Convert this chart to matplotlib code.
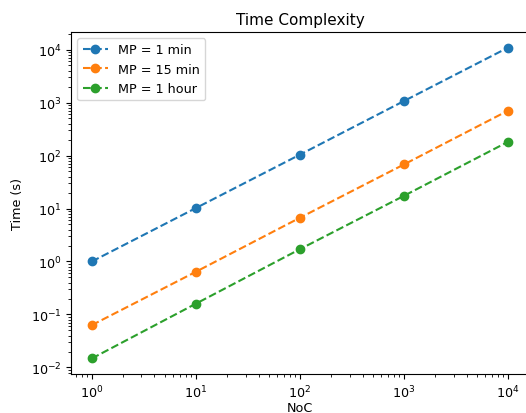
import matplotlib
matplotlib.use("Agg")
import matplotlib.pyplot as plt

noc = [1, 10, 100, 1000, 10000]
mp_1min = [1.0, 10.2, 104, 1070, 10900]
mp_15min = [0.063, 0.64, 6.7, 68, 705]
mp_1hour = [0.0148, 0.16, 1.71, 17.4, 182]
labels = ["MP = 1 min", "MP = 15 min", "MP = 1 hour"]

plt.rcParams["font.size"] = 9.2

fig = plt.figure(figsize=(5.26, 4.14), dpi=100)
ax = fig.add_axes([71 / 526, 39 / 414, 458 / 526, 342 / 414])

for vals, lab in zip([mp_1min, mp_15min, mp_1hour], labels):
    ax.plot(noc, vals, marker='o', linestyle='--', markersize=6, label=lab)

ax.set_xscale("log")
ax.set_yscale("log")
ax.set_xlabel("NoC", labelpad=0.5)
ax.set_ylabel("Time (s)", labelpad=5)
ax.set_title("Time Complexity", fontsize=11)
ax.legend(loc="upper left")

fig.savefig("out.png", dpi=100)
